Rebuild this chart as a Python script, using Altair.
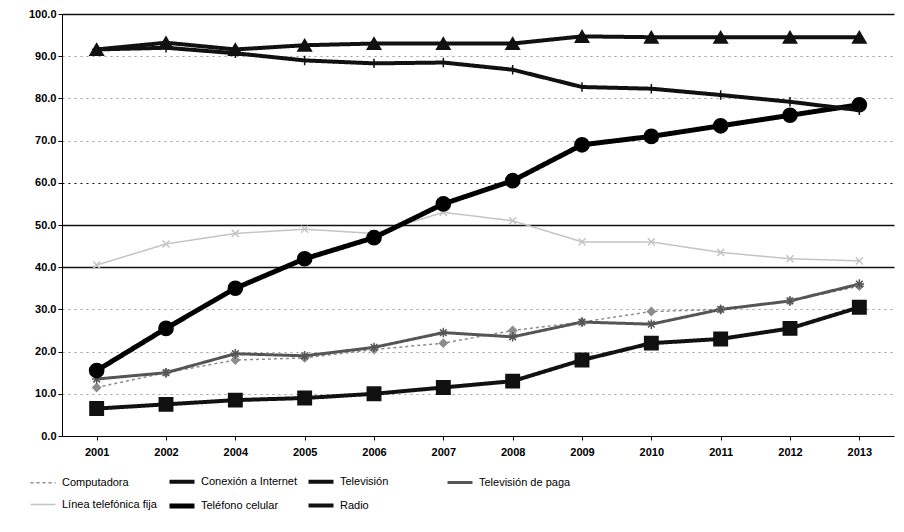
import altair as alt
import pandas as pd

years = ["2001", "2002", "2004", "2005", "2006", "2007", "2008", "2009", "2010", "2011", "2012", "2013"]
series_names = ["Computadora", "Conexión a Internet", "Televisión", "Televisión de paga",
                "Línea telefónica fija", "Teléfono celular", "Radio"]

computadora = [11.5, 15.0, 18.0, 18.5, 20.5, 22.0, 25.0, 27.0, 29.5, 30.0, 32.0, 35.5]
internet = [6.5, 7.5, 8.5, 9.0, 10.0, 11.5, 13.0, 18.0, 22.0, 23.0, 25.5, 30.5]
television = [91.6, 93.2, 91.6, 92.6, 93.0, 93.0, 93.0, 94.7, 94.5, 94.5, 94.5, 94.5]
tv_paga = [13.5, 15.0, 19.5, 19.0, 21.0, 24.5, 23.5, 27.0, 26.5, 30.0, 32.0, 36.0]
linea_fija = [40.5, 45.5, 48.0, 49.0, 48.0, 53.0, 51.0, 46.0, 46.0, 43.5, 42.0, 41.5]
celular = [15.5, 25.5, 35.0, 42.0, 47.0, 55.0, 60.5, 69.0, 71.0, 73.5, 76.0, 78.5]
radio = [91.6, 92.0, 90.7, 89.0, 88.3, 88.5, 86.8, 82.7, 82.3, 80.8, 79.2, 77.2]

values = [computadora, internet, television, tv_paga, linea_fija, celular, radio]
rows = []
for name, vals in zip(series_names, values):
    for y, v in zip(years, vals):
        rows.append({"anio": y, "serie": name, "marca": "m-" + name, "valor": v})
df = pd.DataFrame(rows)
marker_names = ["m-" + n for n in series_names]

colors = ["#8c8c8c", "#111111", "#111111", "#555555", "#c4c4c4", "#000000", "#111111"]
dashes = [[3, 3], [1, 0], [1, 0], [1, 0], [1, 0], [1, 0], [1, 0]]
widths = [1.5, 4, 4, 3, 1.5, 5, 4]
shapes = ["diamond", "square", "triangle-up",
          "M-1,0L1,0M0,-1L0,1M-0.7,-0.7L0.7,0.7M-0.7,0.7L0.7,-0.7",
          "M-1,-1L1,1M1,-1L-1,1", "circle", "M-1,0L1,0M0,-1L0,1"]
sizes = [60, 180, 180, 90, 50, 200, 90]


def legend_cfg():
    return alt.Legend(title=None, orient="none", legendX=-34, legendY=452,
                      direction="horizontal", columns=4, symbolType="stroke",
                      symbolSize=625, gridAlign="all", columnPadding=0, rowPadding=0,
                      labelFont="Liberation Sans", labelFontSize=11,
                      labelColor="#000", labelLimit=200)


x_enc = alt.X("anio:O", scale=alt.Scale(type="point", padding=0.5), sort=years,
              axis=alt.Axis(title=None, labelAngle=0, labelFont="Liberation Sans",
                            labelFontSize=11, labelFontWeight="bold", labelColor="#000",
                            domainColor="#000", tickColor="#000", tickSize=4,
                            labelPadding=6))
y_enc = alt.Y("valor:Q", scale=alt.Scale(domain=[0, 100], nice=False),
              axis=alt.Axis(title=None, values=list(range(0, 101, 10)), format=".1f",
                            labelFont="Liberation Sans", labelFontSize=11,
                            labelFontWeight="bold", labelColor="#000",
                            domainColor="#000", tickColor="#000", tickSize=4,
                            gridColor={"condition": {"test": "datum.value == 100 || datum.value == 50 || datum.value == 40 || datum.value == 60", "value": "#111"}, "value": "#999"},
                            gridDash={"condition": {"test": "datum.value == 100 || datum.value == 50 || datum.value == 40", "value": [1, 0]}, "value": [2, 4]},
                            gridWidth={"condition": {"test": "datum.value == 100 || datum.value == 50 || datum.value == 40", "value": 1.4}, "value": 1}))

lines = alt.Chart(df).mark_line().encode(
    x=x_enc,
    y=y_enc,
    color=alt.Color("serie:N", scale=alt.Scale(domain=series_names, range=colors),
                    sort=series_names, legend=legend_cfg()),
    strokeDash=alt.StrokeDash("serie:N", scale=alt.Scale(type="ordinal", domain=series_names, range=dashes),
                              sort=series_names, legend=legend_cfg()),
    strokeWidth=alt.StrokeWidth("serie:N", scale=alt.Scale(type="ordinal", domain=series_names, range=widths),
                                sort=series_names, legend=legend_cfg()),
)

points = alt.Chart(df).mark_point(filled=False, opacity=1, strokeWidth=1.5).encode(
    x=x_enc,
    y=y_enc,
    fill=alt.Fill("marca:N", scale=alt.Scale(domain=marker_names, range=colors), legend=None),
    stroke=alt.Stroke("marca:N", scale=alt.Scale(domain=marker_names, range=colors), legend=None),
    shape=alt.Shape("marca:N", scale=alt.Scale(domain=marker_names, range=shapes), legend=None),
    size=alt.Size("marca:N", scale=alt.Scale(type="ordinal", domain=marker_names, range=sizes), legend=None),
)

chart = alt.layer(lines, points).properties(
    width=832, height=422,
    autosize=alt.AutoSizeParams(type="none"),
    padding={"left": 54, "top": 6, "right": 2, "bottom": 88},
    background="white",
).configure_view(stroke=None)

chart.save("out.html", embed_options={"renderer": "svg", "actions": False})
